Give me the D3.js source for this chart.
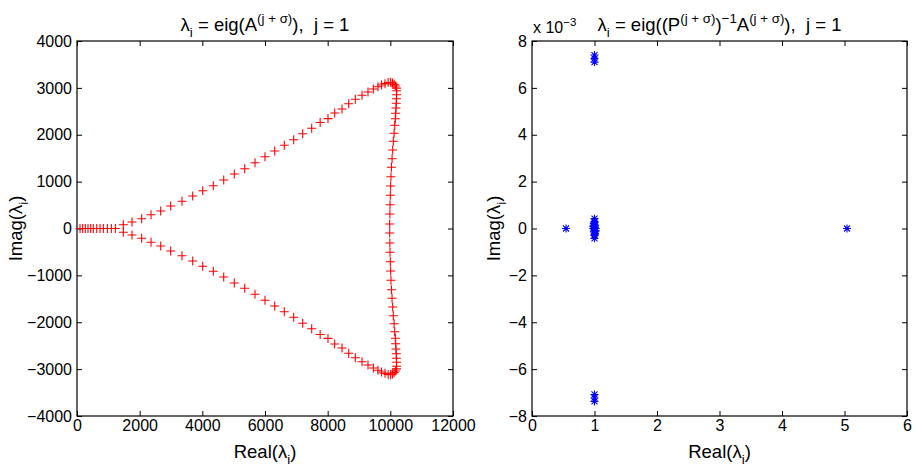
<!DOCTYPE html>
<html>
<head>
<meta charset="utf-8">
<script src="https://cdn.jsdelivr.net/npm/d3@7"></script>
<style>
  body { margin: 0; background: #fff; }
  text { font-family: Arial, "Liberation Sans", Helvetica, sans-serif; fill: #000; }
</style>
</head>
<body>
<svg id="chart" width="915" height="468"></svg>
<script>
// left panel: eig(A), real axis part
var axisRe = [96, 181, 266, 351, 437, 521, 630, 735, 841, 969, 1096, 1224];
var axisIm = [0, 0, 0, 0, 0, 0, 0, 0, 0, 0, 0, 0];
// upper arm + top corner
var upperRe = [1478, 1755, 2064, 2362, 2671, 2990, 3351, 3693, 4012, 4350, 4682, 5020, 5352, 5681, 6000, 6310, 6616, 6916, 7203, 7490, 7760, 8010, 8224, 8457, 8671, 8883, 9096, 9287, 9457, 9606, 9720, 9830, 9930, 10010, 10070, 10120, 10160, 10195];
var upperIm = [80, 138, 209, 294, 373, 480, 580, 693, 806, 913, 1035, 1163, 1276, 1403, 1531, 1653, 1775, 1894, 2022, 2138, 2260, 2345, 2464, 2549, 2662, 2756, 2842, 2912, 2976, 3025, 3060, 3090, 3115, 3120, 3105, 3075, 3040, 2995];
// right side, upper half
var sideUpRe = [10200, 10200, 10195, 10190, 10180, 10170, 10160, 10140, 10120, 10095, 10075, 10055, 10035, 10020, 10010, 10000, 9990, 9985, 9980];
var sideUpIm = [2940, 2854, 2769, 2671, 2571, 2458, 2342, 2202, 2031, 1860, 1675, 1489, 1306, 1105, 907, 708, 508, 309, 96];
// lower arm + bottom corner
var lowerRe = [1478, 1755, 2064, 2362, 2671, 2990, 3351, 3693, 4012, 4350, 4682, 5020, 5352, 5681, 6000, 6310, 6616, 6916, 7203, 7490, 7760, 8010, 8224, 8457, 8671, 8883, 9096, 9287, 9457, 9606, 9720, 9830, 9930, 10010, 10070, 10120, 10160, 10195];
var lowerIm = [-80, -138, -209, -294, -373, -480, -580, -693, -806, -913, -1035, -1163, -1276, -1403, -1531, -1653, -1775, -1894, -2022, -2138, -2260, -2345, -2464, -2549, -2662, -2756, -2842, -2912, -2976, -3025, -3060, -3090, -3115, -3120, -3105, -3075, -3040, -2995];
// right side, lower half
var sideLoRe = [10200, 10200, 10195, 10190, 10180, 10170, 10160, 10140, 10120, 10095, 10075, 10055, 10035, 10020, 10010, 10000, 9990, 9985, 9980];
var sideLoIm = [-2940, -2854, -2769, -2671, -2571, -2458, -2342, -2202, -2031, -1860, -1675, -1489, -1306, -1105, -907, -708, -508, -309, -96];

// right panel: preconditioned eigenvalues (imag in units of 1e-3)
var precRe = [0.545, 5.04, 1.0, 1.0, 1.0, 1.0, 1.0, 1.0, 1.0, 1.0, 1.0, 1.0, 0.99, 1.01, 0.98, 1.02, 0.98, 1.02, 1.0, 1.01, 0.99, 1.0, 1.0];
var precIm = [0, 0, 7.40, 7.25, 7.10, -7.08, -7.23, -7.38, 0.42, -0.42, 0.30, -0.30, 0.20, -0.20, 0.10, -0.10, 0, 0, 0.05, 0.15, -0.15, 0.25, -0.25];

var leftXTicks = [0, 2000, 4000, 6000, 8000, 10000, 12000];
var leftYTicks = [-4000, -3000, -2000, -1000, 0, 1000, 2000, 3000, 4000];
var rightXTicks = [0, 1, 2, 3, 4, 5, 6];
var rightYTicks = [-8, -6, -4, -2, 0, 2, 4, 6, 8];

var svg = d3.select("#chart");

function richText(sel, parts, size) {
    var shift = 0;
    parts.forEach(function(p) {
        var target = p[1] == "sup" ? -0.45 * size : (p[1] == "sub" ? 0.3 * size : 0);
        sel.append("tspan")
            .attr("dy", target - shift)
            .style("font-size", (p[1] ? size * 0.72 : size) + "px")
            .text(p[0]);
        shift = target;
    });
}

function panel(opt) {
    var x = d3.scaleLinear().domain(opt.xDomain).range([opt.left, opt.right]);
    var y = d3.scaleLinear().domain(opt.yDomain).range([opt.bottom, opt.top]);
    var g = svg.append("g");

    var fmt = function(d) { return d < 0 ? "\u2212" + Math.abs(d) : String(d); };
    var ax = [
        [d3.axisBottom(x).tickValues(opt.xTicks).tickFormat(fmt), opt.bottom, true, "x"],
        [d3.axisTop(x).tickValues(opt.xTicks).tickFormat(""), opt.top, false, "x"],
        [d3.axisLeft(y).tickValues(opt.yTicks).tickFormat(fmt), opt.left, true, "y"],
        [d3.axisRight(y).tickValues(opt.yTicks).tickFormat(""), opt.right, false, "y"]
    ];
    ax.forEach(function(a) {
        var t = a[3] == "x" ? "translate(0," + a[1] + ")" : "translate(" + a[1] + ",0)";
        var s = g.append("g").attr("transform", t)
            .call(a[0].tickSizeInner(-5).tickSizeOuter(0).tickPadding(a[3] == "x" ? 4 : 5));
        s.select(".domain").remove();
        s.selectAll(".tick line").attr("stroke", "#000");
        s.selectAll(".tick text").style("font-size", "16px").attr("fill", "#000");
    });

    g.append("rect")
        .attr("x", opt.left).attr("y", opt.top)
        .attr("width", opt.right - opt.left).attr("height", opt.bottom - opt.top)
        .attr("fill", "none").attr("stroke", "#000").attr("stroke-width", 1.2);

    // markers
    opt.series.forEach(function(s) {
        var pts = s[0].map(function(d, i) { return [d, s[1][i]]; });
        g.selectAll(null)
            .data(pts)
            .enter()
            .append("path")
            .attr("transform", function(d) { return "translate(" + x(d[0]) + "," + y(d[1]) + ")"; })
            .attr("d", opt.marker)
            .attr("fill", "none")
            .attr("stroke", opt.color)
            .attr("stroke-width", 1.1);
    });

    var cx = (opt.left + opt.right) / 2;
    var cy = (opt.top + opt.bottom) / 2;
    richText(g.append("text").attr("x", cx).attr("y", 31).attr("text-anchor", "middle").style("white-space", "pre"), opt.title, 18.5);
    richText(g.append("text").attr("x", cx).attr("y", 458).attr("text-anchor", "middle"), [["Real(\u03bb"], ["i", "sub"], [")"]], 18.5);
    richText(g.append("text").attr("transform", "translate(" + opt.ylabX + "," + cy + ") rotate(-90)").attr("text-anchor", "middle"),
        [["Imag(\u03bb"], ["i", "sub"], [")"]], 18.5);
    return g;
}

var plusMark = "M-4.5,0H4.5M0,-4.5V4.5";
var starMark = "M-4,0H4M0,-4V4M-3,-3L3,3M-3,3L3,-3";

panel({
    left: 77, right: 453, top: 41, bottom: 416,
    xDomain: [0, 12000], yDomain: [-4000, 4000],
    xTicks: leftXTicks, yTicks: leftYTicks,
    series: [[axisRe, axisIm], [upperRe, upperIm], [sideUpRe, sideUpIm], [lowerRe, lowerIm], [sideLoRe, sideLoIm]],
    marker: plusMark, color: "#ff0000", ylabX: 22,
    title: [["\u03bb"], ["i", "sub"], [" = eig(A"], ["(j + \u03c3)", "sup"], ["),  j = 1"]]
});

var rg = panel({
    left: 532, right: 907, top: 41, bottom: 416,
    xDomain: [0, 6], yDomain: [-8, 8],
    xTicks: rightXTicks, yTicks: rightYTicks,
    series: [[precRe, precIm]],
    marker: starMark, color: "#0000ff", ylabX: 500,
    title: [["\u03bb"], ["i", "sub"], [" = eig((P"], ["(j + \u03c3)", "sup"], [")"], ["\u22121", "sup"], ["A"], ["(j + \u03c3)", "sup"], ["),  j = 1"]]
});

// exponent label
richText(rg.append("text").attr("x", 533).attr("y", 33).style("white-space", "pre"), [["x 10"], ["\u22123", "sup"]], 16);
</script>
</body>
</html>
